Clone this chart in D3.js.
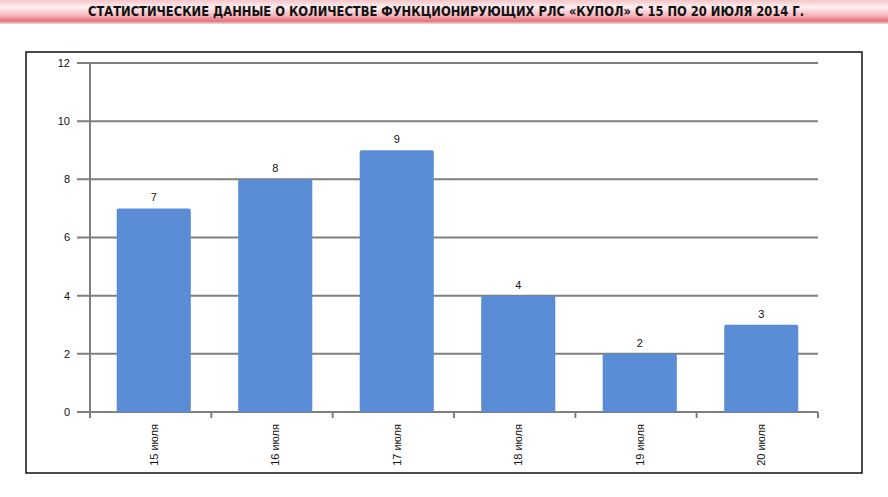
<!DOCTYPE html>
<html>
<head>
<meta charset="utf-8">
<script src="https://cdn.jsdelivr.net/npm/d3@7"></script>
<style>
  body { margin: 0; background: #fff; }
  svg { display: block; }
</style>
</head>
<body>
<svg id="chart" width="888" height="497"></svg>
<script>
// data
const days = ["15 июля", "16 июля", "17 июля", "18 июля", "19 июля", "20 июля"];
const counts = [7, 8, 9, 4, 2, 3];
const yTicks = [0, 2, 4, 6, 8, 10, 12];
const title = "СТАТИСТИЧЕСКИЕ ДАННЫЕ О КОЛИЧЕСТВЕ ФУНКЦИОНИРУЮЩИХ РЛС «КУПОЛ» С 15 ПО 20 ИЮЛЯ 2014 Г.";

const svg = d3.select("#chart");

// title band gradient
const defs = svg.append("defs");
const grad = defs.append("linearGradient")
  .attr("id", "band").attr("x1", 0).attr("y1", 0).attr("x2", 0).attr("y2", 1);
grad.append("stop").attr("offset", "0%").attr("stop-color", "#f6c4c8");
grad.append("stop").attr("offset", "30%").attr("stop-color", "#fdf0f1");
grad.append("stop").attr("offset", "65%").attr("stop-color", "#f5b4ba");
grad.append("stop").attr("offset", "88%").attr("stop-color", "#e3717d");
grad.append("stop").attr("offset", "100%").attr("stop-color", "#f9dadd");

svg.append("rect")
  .attr("x", 0).attr("y", 0).attr("width", 888).attr("height", 24)
  .attr("fill", "url(#band)");

svg.append("text")
  .attr("x", 446).attr("y", 16)
  .attr("text-anchor", "middle")
  .attr("font-family", "'DejaVu Sans Condensed', 'Liberation Sans Narrow', sans-serif")
  .attr("font-weight", "bold")
  .attr("font-size", 14)
  .attr("textLength", 716)
  .attr("lengthAdjust", "spacingAndGlyphs")
  .attr("fill", "#111")
  .text(title);

// chart frame
svg.append("rect")
  .attr("x", 26).attr("y", 52).attr("width", 836).attr("height", 421)
  .attr("fill", "#fff").attr("stroke", "#111").attr("stroke-width", 1.5);

// scales
const x = d3.scaleBand().domain(days).range([93, 822]).paddingInner(0.39).paddingOuter(0.195);
const y = d3.scaleLinear().domain([0, 12]).range([412, 63]);

// gridlines + y tick extensions
svg.append("g").selectAll("line")
  .data(yTicks)
  .join("line")
  .attr("x1", 77).attr("x2", 818)
  .attr("y1", d => y(d)).attr("y2", d => y(d))
  .attr("stroke", "#7f7f7f").attr("stroke-width", 2);

// y labels
svg.append("g").selectAll("text")
  .data(yTicks)
  .join("text")
  .attr("x", 70).attr("y", d => y(d))
  .attr("dy", "0.35em")
  .attr("text-anchor", "end")
  .attr("font-family", "Arial, 'Liberation Sans', sans-serif")
  .attr("font-size", 11)
  .attr("fill", "#111")
  .text(d => d);

// y axis line
svg.append("line")
  .attr("x1", 90).attr("x2", 90).attr("y1", y(12)).attr("y2", 418)
  .attr("stroke", "#7f7f7f").attr("stroke-width", 2);

// x ticks at category boundaries
const bounds = d3.range(days.length + 1).map(i => 90 + i * (728 / days.length));
svg.append("g").selectAll("line")
  .data(bounds.slice(1))
  .join("line")
  .attr("x1", d => d).attr("x2", d => d)
  .attr("y1", y(0)).attr("y2", 418)
  .attr("stroke", "#7f7f7f").attr("stroke-width", 2);

// bars
svg.append("g").selectAll("rect")
  .data(counts)
  .join("rect")
  .attr("x", (d, i) => x(days[i]))
  .attr("y", d => y(d))
  .attr("width", x.bandwidth())
  .attr("height", d => y(0) - y(d))
  .attr("rx", 2)
  .attr("fill", "#5a8dd6");

// value labels
svg.append("g").selectAll("text")
  .data(counts)
  .join("text")
  .attr("x", (d, i) => x(days[i]) + x.bandwidth() / 2)
  .attr("y", d => y(d) - 7)
  .attr("text-anchor", "middle")
  .attr("font-family", "Arial, 'Liberation Sans', sans-serif")
  .attr("font-size", 11)
  .attr("fill", "#111")
  .text(d => d);

// category labels, rotated
svg.append("g").selectAll("text")
  .data(days)
  .join("text")
  .attr("transform", d => `translate(${x(d) + x.bandwidth() / 2},424) rotate(-90)`)
  .attr("dy", "0.35em")
  .attr("text-anchor", "end")
  .attr("font-family", "Arial, 'Liberation Sans', sans-serif")
  .attr("font-size", 11)
  .attr("fill", "#111")
  .text(d => d);
</script>
</body>
</html>
